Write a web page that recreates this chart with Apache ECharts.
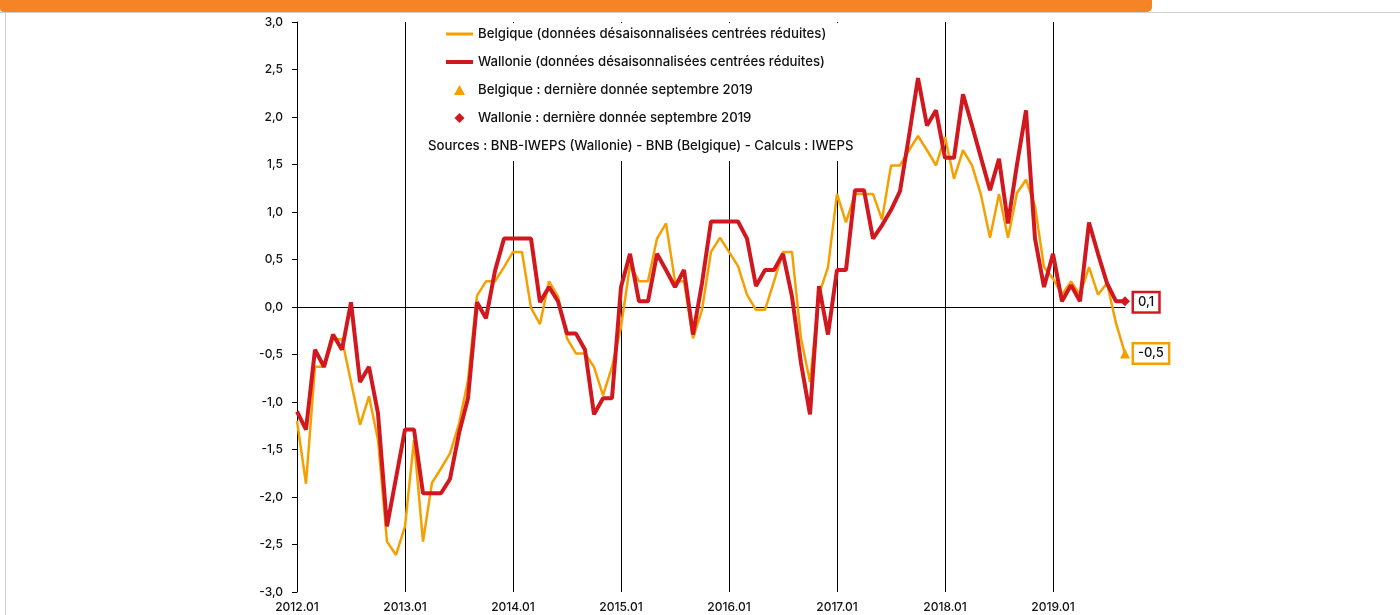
<!DOCTYPE html>
<html><head><meta charset="utf-8">
<script src="https://cdn.jsdelivr.net/npm/echarts@6/dist/echarts.min.js"></script>
<style>html,body{margin:0;padding:0;background:#fff}#c{width:1400px;height:615px}</style>
</head><body><div id="c"></div>
<script>
const years = [2012, 2013, 2014, 2015, 2016, 2017, 2018, 2019];
const months = ['01','02','03','04','05','06','07','08','09','10','11','12'];
const lastMonth = '2019.09';
const categories = [];
for (const y of years) { for (const m of months) { const c = y + '.' + m; if (categories.length && categories[categories.length-1] === lastMonth) break; categories.push(c); } }

const belgique = [
 -1.20,-1.86,-0.63,-0.63,-0.34,-0.34,-0.79,-1.24,-0.94,-1.40,-2.47,-2.61,
 -2.31,-1.40,-2.47,-1.85,-1.70,-1.54,-1.23,-0.77, 0.12, 0.27, 0.27, 0.42,
  0.58, 0.58,-0.01,-0.18, 0.27, 0.11,-0.33,-0.49,-0.49,-0.63,-0.93,-0.63,
 -0.21, 0.44, 0.27, 0.27, 0.72, 0.88, 0.27, 0.27,-0.33,-0.03, 0.58, 0.73,
  0.58, 0.43, 0.13,-0.03,-0.03, 0.27, 0.58, 0.58,-0.33,-0.79, 0.13, 0.42,
  1.19, 0.89, 1.19, 1.19, 1.19, 0.92, 1.49, 1.49, 1.65, 1.80, 1.65, 1.49,
  1.79, 1.35, 1.65, 1.49, 1.18, 0.73, 1.19, 0.73, 1.20, 1.34, 1.06, 0.42,
  0.30, 0.13, 0.27, 0.13, 0.42, 0.13, 0.25,-0.17,-0.49
];
const wallonie = [
 -1.10,-1.29,-0.45,-0.63,-0.29,-0.45, 0.05,-0.79,-0.63,-1.12,-2.31,-1.80,
 -1.29,-1.29,-1.96,-1.96,-1.96,-1.81,-1.33,-0.96, 0.05,-0.12, 0.38, 0.72,
  0.72, 0.72, 0.72, 0.05, 0.21, 0.06,-0.28,-0.28,-0.45,-1.13,-0.96,-0.96,
  0.21, 0.56, 0.06, 0.06, 0.56, 0.39, 0.21, 0.39,-0.29, 0.25, 0.90, 0.90,
  0.90, 0.90, 0.72, 0.22, 0.39, 0.39, 0.56, 0.11,-0.59,-1.13, 0.22,-0.29,
  0.39, 0.39, 1.23, 1.23, 0.72, 0.86, 1.02, 1.22, 1.80, 2.41, 1.91, 2.07,
  1.57, 1.57, 2.24, 1.91, 1.57, 1.23, 1.56, 0.88, 1.50, 2.07, 0.72, 0.21,
  0.56, 0.06, 0.23, 0.06, 0.89, 0.56, 0.25, 0.06, 0.06
];
const seriesNames = [
 'Belgique (données désaisonnalisées centrées réduites)',
 'Wallonie (données désaisonnalisées centrées réduites)',
 'Belgique : dernière donnée septembre 2019',
 'Wallonie : dernière donnée septembre 2019'
];
const sourceText = 'Sources : BNB-IWEPS (Wallonie) - BNB (Belgique) - Calculs : IWEPS';
const yMin = -3, yMax = 3, yStep = 0.5;

const ORANGE = '#F5A000', RED = '#D2181F', FONT = 'Inter, "DejaVu Sans", sans-serif';
const fmt = v => v.toFixed(1).replace('.', ',');
const lastIdx = categories.length - 1;
const LEG_FONT = 13.2;

const chart = echarts.init(document.getElementById('c'), null, {renderer: 'canvas'});
chart.setOption({
  animation: false,
  textStyle: {fontFamily: FONT},
  grid: {left: 297, right: 275, top: 22, bottom: 23, containLabel: false},
  title: {text: sourceText, left: 428, top: 140, padding: 0,
    textStyle: {fontSize: LEG_FONT, fontWeight: 500, color: '#111', fontFamily: FONT}},
  legend: {
    orient: 'vertical', left: 446, top: 27, padding: 0,
    itemWidth: 27, itemHeight: 10, itemGap: 14,
    textStyle: {fontSize: LEG_FONT, lineHeight: 14, fontWeight: 500, color: '#111', fontFamily: FONT},
    data: [
      {name: seriesNames[0], icon: 'path://M0,0 L27,0 L27,3 L0,3 Z', itemStyle: {color: ORANGE}},
      {name: seriesNames[1], icon: 'path://M0,0 L27,0 L27,4 L0,4 Z', itemStyle: {color: RED}},
      {name: seriesNames[2], icon: 'path://M5,0 L10,9 L0,9 Z', itemStyle: {color: ORANGE}},
      {name: seriesNames[3], icon: 'path://M4,0 L8,4 L4,8 L0,4 Z', itemStyle: {color: RED}}
    ]
  },
  graphic: [
    {type: 'line', shape: {x1: 0, y1: 12.5, x2: 1400, y2: 12.5}, style: {stroke: '#cfcfcf', lineWidth: 1}, z: 10},
    {type: 'line', shape: {x1: 5.5, y1: 12, x2: 5.5, y2: 615}, style: {stroke: '#cfcfcf', lineWidth: 1}, z: 10},
    {type: 'rect', shape: {x: 0, y: 0, width: 1152, height: 12, r: [0, 0, 5, 4]}, style: {fill: '#F58426'}, z: 11},
    {type: 'rect', shape: {x: 420, y: 23, width: 450, height: 138}, style: {fill: '#fff'}, z: 3}
  ],
  xAxis: [
    {type: 'category', data: categories, boundaryGap: false,
     axisLine: {onZero: true, lineStyle: {color: '#000', width: 1}},
     axisTick: {show: false}, axisLabel: {show: false},
     splitLine: {show: true, interval: (i) => i % 12 === 0, lineStyle: {color: '#000', width: 1}}},
    {type: 'category', data: categories, boundaryGap: false, position: 'bottom',
     axisLine: {show: false, onZero: false}, axisTick: {show: false},
     axisLabel: {interval: (i) => i % 12 === 0, color: '#111', fontSize: 12, fontWeight: 500, margin: 9, fontFamily: FONT},
     splitLine: {show: false}}
  ],
  yAxis: {type: 'value', min: yMin, max: yMax, interval: yStep,
    axisLine: {show: true, lineStyle: {color: '#000', width: 1}},
    axisTick: {show: true, length: 5, lineStyle: {color: '#000'}},
    axisLabel: {formatter: fmt, color: '#111', fontSize: 12, fontWeight: 500, margin: 14, fontFamily: FONT},
    splitLine: {show: false}},
  series: [
    {name: seriesNames[0], type: 'line', data: belgique, symbol: 'none', showSymbol: false,
     lineStyle: {color: ORANGE, width: 2.5}, itemStyle: {color: ORANGE}, z: 4},
    {name: seriesNames[1], type: 'line', data: wallonie, symbol: 'none', showSymbol: false,
     lineStyle: {color: RED, width: 4}, itemStyle: {color: RED}, z: 5},
    {name: seriesNames[2], type: 'scatter', symbol: 'triangle', symbolSize: 10,
     itemStyle: {color: ORANGE, opacity: 1}, z: 6,
     data: [[categories[lastIdx], belgique[lastIdx]]],
     label: {show: true, position: 'right', distance: 4, formatter: p => fmt(p.value[1]),
       color: '#111', fontSize: 13, fontWeight: 500, fontFamily: FONT, backgroundColor: '#fff',
       borderColor: ORANGE, borderWidth: 2.5, padding: [3, 4, 2, 4], opacity: 1}},
    {name: seriesNames[3], type: 'scatter', symbol: 'diamond', symbolSize: 10,
     itemStyle: {color: RED, opacity: 1}, z: 7,
     data: [[categories[lastIdx], wallonie[lastIdx]]],
     label: {show: true, position: 'right', distance: 4, offset: [0, 1], formatter: p => fmt(p.value[1]),
       color: '#111', fontSize: 13, fontWeight: 500, fontFamily: FONT, backgroundColor: '#fff',
       borderColor: RED, borderWidth: 2.5, padding: [3, 4, 2, 4], opacity: 1}}
  ]
});
</script></body></html>
